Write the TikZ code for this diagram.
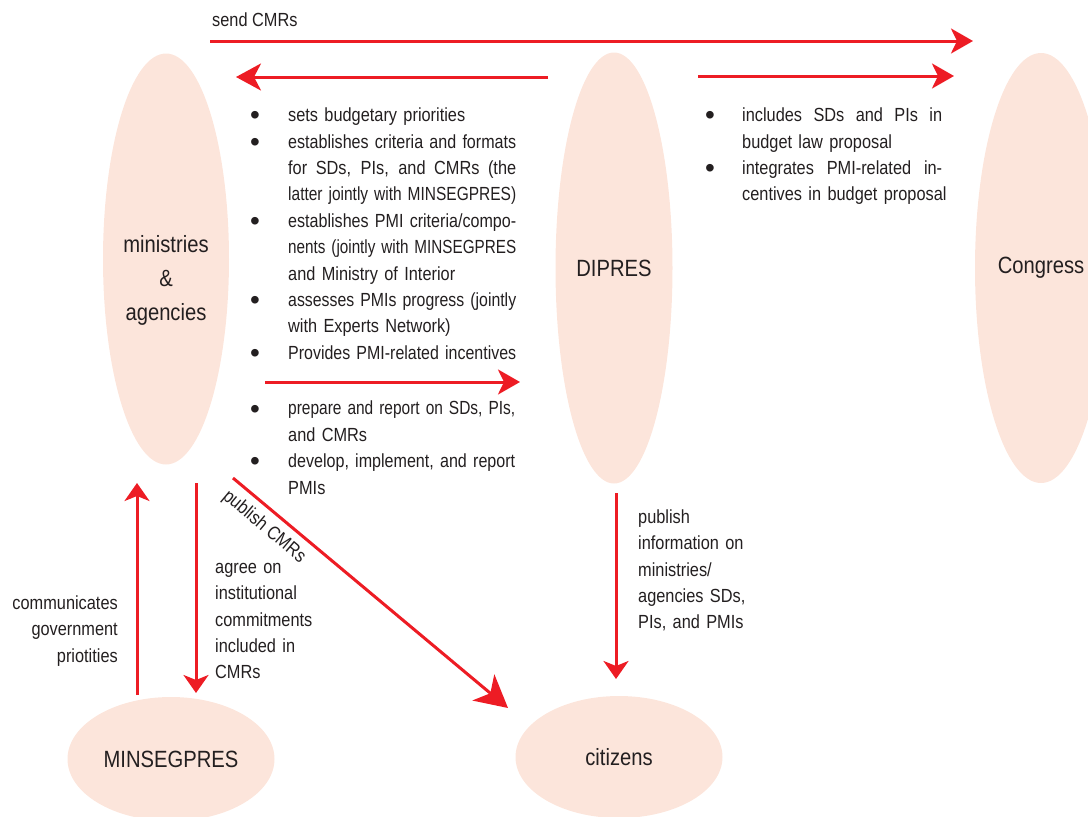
\documentclass[tikz,border=0pt]{standalone}
\usepackage{fontspec}
\setmainfont{Liberation Sans}[FakeStretch=0.86]
\newfontfamily\bulfont{Liberation Sans}
\usetikzlibrary{arrows.meta,shapes.geometric}
\definecolor{peach}{HTML}{FCE5DB}
\definecolor{arred}{HTML}{ED1C24}
\definecolor{ink}{HTML}{231F20}
\newcommand\bodyfont{\fontsize{19}{26.4}\selectfont}
\newcommand\bigfont{\fontsize{23.5}{34}\selectfont}
\newcommand\bdot{{\bulfont\fontsize{28}{28}\selectfont\raisebox{-3.2pt}{\textbullet}}}
\newcommand\bl{\makebox[38pt][l]{\bdot}}
\newcommand\br{\makebox[37pt][l]{\bdot}}
\newcommand\ii{\makebox[38pt]{}}
\newcommand\ir{\makebox[37pt]{}}
\newsavebox\jlbox
\newcommand\jl[2][228pt]{\sbox\jlbox{#2}%
  \ifdim\wd\jlbox>#1\relax\resizebox{#1}{\height}{\usebox\jlbox}%
  \else{\spaceskip=4.5pt plus 1fil minus 1pt\makebox[#1][s]{#2}}\fi}
\begin{document}
\begin{tikzpicture}[x=1pt,y=-1pt,
  blob/.style={ellipse, fill=peach, draw=none, inner sep=0pt, font=\bigfont, text=ink},
  bigtxt/.style={font=\bigfont, text=ink, align=center, inner sep=0pt},
  txt/.style={font=\bodyfont, text=ink, inner sep=0pt},
  blocktxt/.style={txt, anchor=north west, align=left},
  arr/.style={draw=arred, line width=3pt, -{Stealth[length=22pt,width=25pt,inset=6pt]}},
  arrbig/.style={arr, -{Stealth[length=25pt,width=27pt,inset=7pt]}},
  arrv/.style={arr, -{Stealth[length=18pt,width=25pt,inset=5pt]}},
  arrdiag/.style={arr, -{Stealth[length=32pt,width=34pt,inset=9pt]}}]
\useasboundingbox (0,0) rectangle (1088,817);
% ellipses
\node[blob, minimum width=126pt, minimum height=411pt] (min) at (166,259) {};
\node[bigtxt] (mint) at (166,280) {ministries\\\&\\agencies};
\node[blob, minimum width=117pt, minimum height=431pt] (dip) at (614,268) {DIPRES};
\node[blob, minimum width=132pt, minimum height=430pt] (con) at (1041,268) {Congress};
\node[blob, minimum width=207pt, minimum height=124pt] (mseg) at (171,759) {MINSEGPRES};
\node[blob, minimum width=207pt, minimum height=122pt] (cit) at (619,757) {citizens};
% arrow end points
\coordinate (s1) at (210,41);  \coordinate (e1) at (973,41);
\coordinate (s2) at (548,77);  \coordinate (e2) at (236,77);
\coordinate (s3) at (698,76);  \coordinate (e3) at (954,76);
\coordinate (s4) at (265,382); \coordinate (e4) at (520,382);
\coordinate (s5) at (616,493); \coordinate (e5) at (616,679);
\coordinate (s6) at (137,695); \coordinate (e6) at (137,483);
\coordinate (s7) at (196,483); \coordinate (e7) at (196,693);
\coordinate (s8) at (233,478); \coordinate (e8) at (508,708);
\draw[arr] (s1) -- (e1);
\draw[arrbig] (s2) -- (e2);
\draw[arr] (s3) -- (e3);
\draw[arr] (s4) -- (e4);
\draw[arrv] (s5) -- (e5);
\draw[arrv] (s6) -- (e6);
\draw[arrv] (s7) -- (e7);
\draw[arrdiag] (s8) -- (e8);
% labels
\node[txt, anchor=base west] (lsend) at (212,26.7) {send CMRs};
\node[blocktxt, text width=272pt] (l1) at (250,103) {\noindent\strut\bl sets budgetary priorities\\
\bl\jl{establishes criteria and formats}\\
\ii\jl{for SDs, PIs, and CMRs (the}\\
\ii\jl{latter jointly with MINSEGPRES)}\\
\bl\jl{establishes PMI criteria/compo-}\\
\ii\jl{nents (jointly with MINSEGPRES}\\
\ii and Ministry of Interior\\
\bl\jl{assesses PMIs progress (jointly}\\
\ii with Experts Network)\\
\bl\jl{Provides PMI-related incentives}};
\node[blocktxt, text width=272pt] (l2) at (250,396.3) {\noindent\strut\bl\jl[227pt]{prepare and report on SDs, PIs,}\\
\ii and CMRs\\
\bl\jl[227pt]{develop, implement, and report}\\
\ii PMIs};
\node[blocktxt, text width=250pt] (l3) at (705,103) {\noindent\strut\br\jl[200pt]{includes SDs and PIs in}\\
\ir budget law proposal\\
\br\jl[200pt]{integrates PMI-related in-}\\
\ir centives in budget proposal};
\node[txt, anchor=north east, align=right, text width=130pt] (lcomm) at (118,590.6) {\strut communicates\\government\\priotities};
\node[blocktxt, text width=130pt] (lagree) at (215,554.6) {\noindent\strut agree on\\institutional\\commitments\\included in\\CMRs};
\node[blocktxt, text width=130pt] (lpub) at (638,504.6) {\noindent\strut publish\\information on\\ministries/\\agencies SDs,\\PIs, and PMIs};
\node[txt, rotate=-39.9] (lpcmr) at (264,527) {publish CMRs};
\end{tikzpicture}
\end{document}
